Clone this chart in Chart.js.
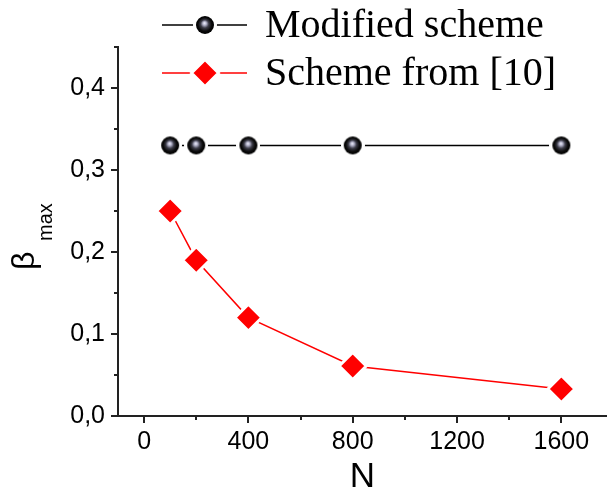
<!DOCTYPE html>
<html>
<head>
<meta charset="utf-8">
<script src="https://cdn.jsdelivr.net/npm/chart.js@4/dist/chart.umd.min.js"></script>
<style>
html, body { margin: 0; padding: 0; background: #fff; overflow: hidden; }
</style>
</head>
<body>
<canvas id="chart" width="607" height="490"></canvas>
<script>
var nValues = [100, 200, 400, 800, 1600];
var modifiedScheme = [0.33, 0.33, 0.33, 0.33, 0.33];
var schemeFrom10 = [0.25, 0.19, 0.12, 0.061, 0.033];
var seriesNames = ['Modified scheme', 'Scheme from [10]'];
var xTicks = [0, 400, 800, 1200, 1600];
var xMinorTicks = [200, 600, 1000, 1400];
var yTicks = [0, 0.1, 0.2, 0.3, 0.4];
var yMinorTicks = [0.05, 0.15, 0.25, 0.35, 0.45];

var sans = '"Liberation Sans", Arial, sans-serif';
var serif = '"Liberation Serif", "Times New Roman", serif';

// black shiny ball marker, with a white ring so the line stops short of it
function makeBall() {
    var c = document.createElement('canvas');
    c.width = 24; c.height = 24;
    var g = c.getContext('2d');
    g.fillStyle = '#fff';
    g.beginPath(); g.arc(12, 12, 12, 0, Math.PI * 2); g.fill();
    var grad = g.createRadialGradient(11.5, 10, 0, 12, 12, 9);
    grad.addColorStop(0, '#f4f4ff');
    grad.addColorStop(0.2, '#b4b4cc');
    grad.addColorStop(0.45, '#3c3c48');
    grad.addColorStop(0.75, '#0a0a0a');
    grad.addColorStop(1, '#000');
    g.fillStyle = grad;
    g.beginPath(); g.arc(12, 12, 9, 0, Math.PI * 2); g.fill();
    return c;
}
var ball = makeBall();

function toPoints(ys) {
    return nValues.map(function(n, i) { return {x: n, y: ys[i]}; });
}

var extras = {
    id: 'extras',
    afterDraw: function(chart) {
        var ctx = chart.ctx;
        var xs = chart.scales.x, ys = chart.scales.y;
        var area = chart.chartArea;
        ctx.save();
        ctx.strokeStyle = '#222';
        ctx.lineWidth = 2;
        ctx.beginPath();
        xTicks.forEach(function(v) {
            var px = Math.round(xs.getPixelForValue(v));
            ctx.moveTo(px, area.bottom); ctx.lineTo(px, area.bottom + 7);
        });
        xMinorTicks.forEach(function(v) {
            var px = Math.round(xs.getPixelForValue(v));
            ctx.moveTo(px, area.bottom); ctx.lineTo(px, area.bottom + 4);
        });
        yTicks.forEach(function(v) {
            var py = Math.round(ys.getPixelForValue(v));
            ctx.moveTo(area.left, py); ctx.lineTo(area.left - 7, py);
        });
        yMinorTicks.forEach(function(v) {
            var py = Math.round(ys.getPixelForValue(v));
            ctx.moveTo(area.left, py); ctx.lineTo(area.left - 4, py);
        });
        ctx.stroke();

        // y title: beta with "max" subscript
        ctx.fillStyle = '#000';
        ctx.textAlign = 'left';
        ctx.textBaseline = 'middle';
        ctx.save();
        ctx.translate(25, 270);
        ctx.rotate(-Math.PI / 2);
        ctx.font = '32px ' + sans;
        ctx.fillText('\u03b2', 0, 0);
        ctx.font = '20px ' + sans;
        ctx.fillText('max', 29, 21);
        ctx.restore();

        // legend
        var rows = [25, 73];
        chart.data.datasets.forEach(function(ds, i) {
            var y = rows[i];
            ctx.strokeStyle = ds.borderColor;
            ctx.lineWidth = 1.5;
            ctx.beginPath(); ctx.moveTo(162, y); ctx.lineTo(247, y); ctx.stroke();
            ctx.fillStyle = ds.pointBackgroundColor;
            ctx.strokeStyle = ds.pointBorderColor;
            ctx.lineWidth = ds.pointBorderWidth;
            Chart.helpers.drawPoint(ctx, {
                pointStyle: ds.pointStyle, radius: ds.pointRadius,
                borderWidth: ds.pointBorderWidth, rotation: 0
            }, 205, y);
            ctx.fillStyle = '#000';
            ctx.font = '40px ' + serif;
            ctx.textBaseline = 'alphabetic';
            ctx.fillText(ds.label, 265, y + 12);
        });
        ctx.restore();
    }
};

new Chart(document.getElementById('chart'), {
    type: 'line',
    data: {
        datasets: [
            {
                label: seriesNames[0],
                data: toPoints(modifiedScheme),
                borderColor: '#000',
                borderWidth: 1.5,
                pointStyle: ball,
                pointRadius: 9,
                pointBackgroundColor: '#000',
                pointBorderColor: '#fff',
                pointBorderWidth: 0,
                tension: 0
            },
            {
                label: seriesNames[1],
                data: toPoints(schemeFrom10),
                borderColor: '#ff0000',
                borderWidth: 1.5,
                pointStyle: 'rectRot',
                pointRadius: 13.5,
                pointBackgroundColor: '#ff0000',
                pointBorderColor: '#fff',
                pointBorderWidth: 3,
                tension: 0
            }
        ]
    },
    options: {
        responsive: false,
        devicePixelRatio: 1,
        animation: false,
        layout: { autoPadding: false, padding: { top: 47, left: 0, right: 0, bottom: 0 } },
        plugins: {
            legend: { display: false },
            tooltip: { enabled: false }
        },
        scales: {
            x: {
                type: 'linear',
                min: -100,
                max: 1775,
                afterFit: function(s) {
                    s.height = 74;
                    s.paddingLeft = 0;
                    s.paddingRight = 0;
                },
                afterBuildTicks: function(s) {
                    s.ticks = xTicks.map(function(v) { return {value: v}; });
                },
                grid: { display: false, drawTicks: false },
                border: { display: true, color: '#222', width: 2 },
                ticks: {
                    padding: 11,
                    color: '#000',
                    font: { family: sans, size: 25 },
                    maxRotation: 0,
                    callback: function(v) { return String(v); }
                },
                title: {
                    display: true,
                    text: 'N',
                    color: '#000',
                    padding: 0,
                    font: { family: sans, size: 35, lineHeight: 0.75 }
                }
            },
            y: {
                type: 'linear',
                min: 0,
                max: 0.45,
                afterFit: function(s) {
                    s.width = 118;
                    s.paddingTop = 0;
                    s.paddingBottom = 0;
                },
                afterBuildTicks: function(s) {
                    s.ticks = yTicks.map(function(v) { return {value: v}; });
                },
                grid: { display: false, drawTicks: false },
                border: { display: true, color: '#222', width: 2 },
                ticks: {
                    padding: 13,
                    color: '#000',
                    font: { family: sans, size: 25 },
                    callback: function(v) { return v.toFixed(1).replace('.', ','); }
                }
            }
        }
    },
    plugins: [extras]
});
</script>
</body>
</html>
